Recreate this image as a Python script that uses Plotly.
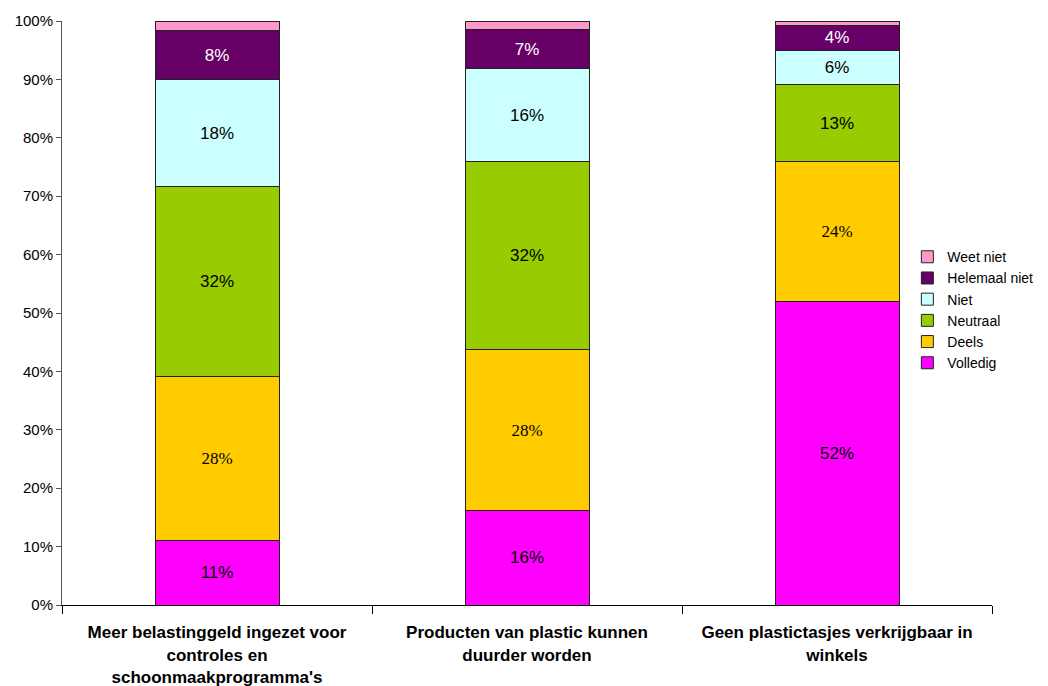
import plotly.graph_objects as go

categories = [
    "Meer belastinggeld ingezet voor<br>controles en<br>schoonmaakprogramma's",
    "Producten van plastic kunnen<br>duurder worden",
    "Geen plastictasjes verkrijgbaar in<br>winkels",
]
series_names = ["Volledig", "Deels", "Neutraal", "Niet", "Helemaal niet", "Weet niet"]
volledig = [11.0, 16.1, 51.9]
deels = [28.2, 27.7, 24.0]
neutraal = [32.4, 32.2, 13.2]
niet = [18.3, 15.8, 5.8]
helemaal_niet = [8.4, 6.7, 4.4]
weet_niet = [1.7, 1.5, 0.7]
y_tick_vals = [0, 10, 20, 30, 40, 50, 60, 70, 80, 90, 100]
y_tick_text = ["0%", "10%", "20%", "30%", "40%", "50%", "60%", "70%", "80%", "90%", "100%"]

series_values = [volledig, deels, neutraal, niet, helemaal_niet, weet_niet]
colors = ["#FF00FF", "#FFCC00", "#99CC00", "#CCFFFF", "#660066", "#FF99CC"]
text_colors = ["black", "black", "black", "black", "white", "black"]
text_fonts = ["Liberation Sans", "Liberation Serif", "Liberation Sans",
              "Liberation Sans", "Liberation Sans", "Liberation Sans"]

fig = go.Figure()
for name, vals, col, tc, tf in zip(series_names, series_values, colors, text_colors, text_fonts):
    show_text = name != "Weet niet"
    fig.add_trace(go.Bar(
        name=name, x=categories, y=vals,
        marker=dict(color=col, line=dict(color="#222222", width=1)),
        texttemplate="%{y:.0f}%" if show_text else "",
        textposition="inside", insidetextanchor="middle",
        textfont=dict(color=tc, family=tf, size=17),
        constraintext="none",
        hoverinfo="name+y",
    ))

# the page body adds an 8px offset; margins compensate for it
fig.update_layout(
    barmode="stack",
    bargap=0.6,
    width=1048, height=686,
    margin=dict(l=54, r=64, t=13, b=89, autoexpand=False),
    paper_bgcolor="white", plot_bgcolor="white",
    font=dict(family="Liberation Sans, Arial, sans-serif", size=15, color="black"),
    legend=dict(
        x=0.909, y=0.623, xanchor="left", yanchor="top",
        traceorder="reversed",
        font=dict(size=14),
        itemwidth=30, tracegroupgap=0,
        bgcolor="rgba(255,255,255,0)",
    ),
    showlegend=True,
)
fig.update_xaxes(
    type="category",
    tickson="boundaries",
    ticks="outside", ticklen=8, tickcolor="black",
    ticklabelstandoff=12,
    showline=True, linecolor="black", linewidth=1,
    showgrid=False, automargin=False,
    tickfont=dict(size=17, family="Liberation Sans", color="black", weight="bold"),
)
fig.update_yaxes(
    range=[0, 100],
    tickvals=y_tick_vals,
    ticktext=y_tick_text,
    ticks="outside", ticklen=5, tickcolor="#555555",
    showline=True, linecolor="#555555", linewidth=1,
    showgrid=False, zeroline=False, automargin=False,
    tickfont=dict(size=15),
)

fig.write_html("out.html")
